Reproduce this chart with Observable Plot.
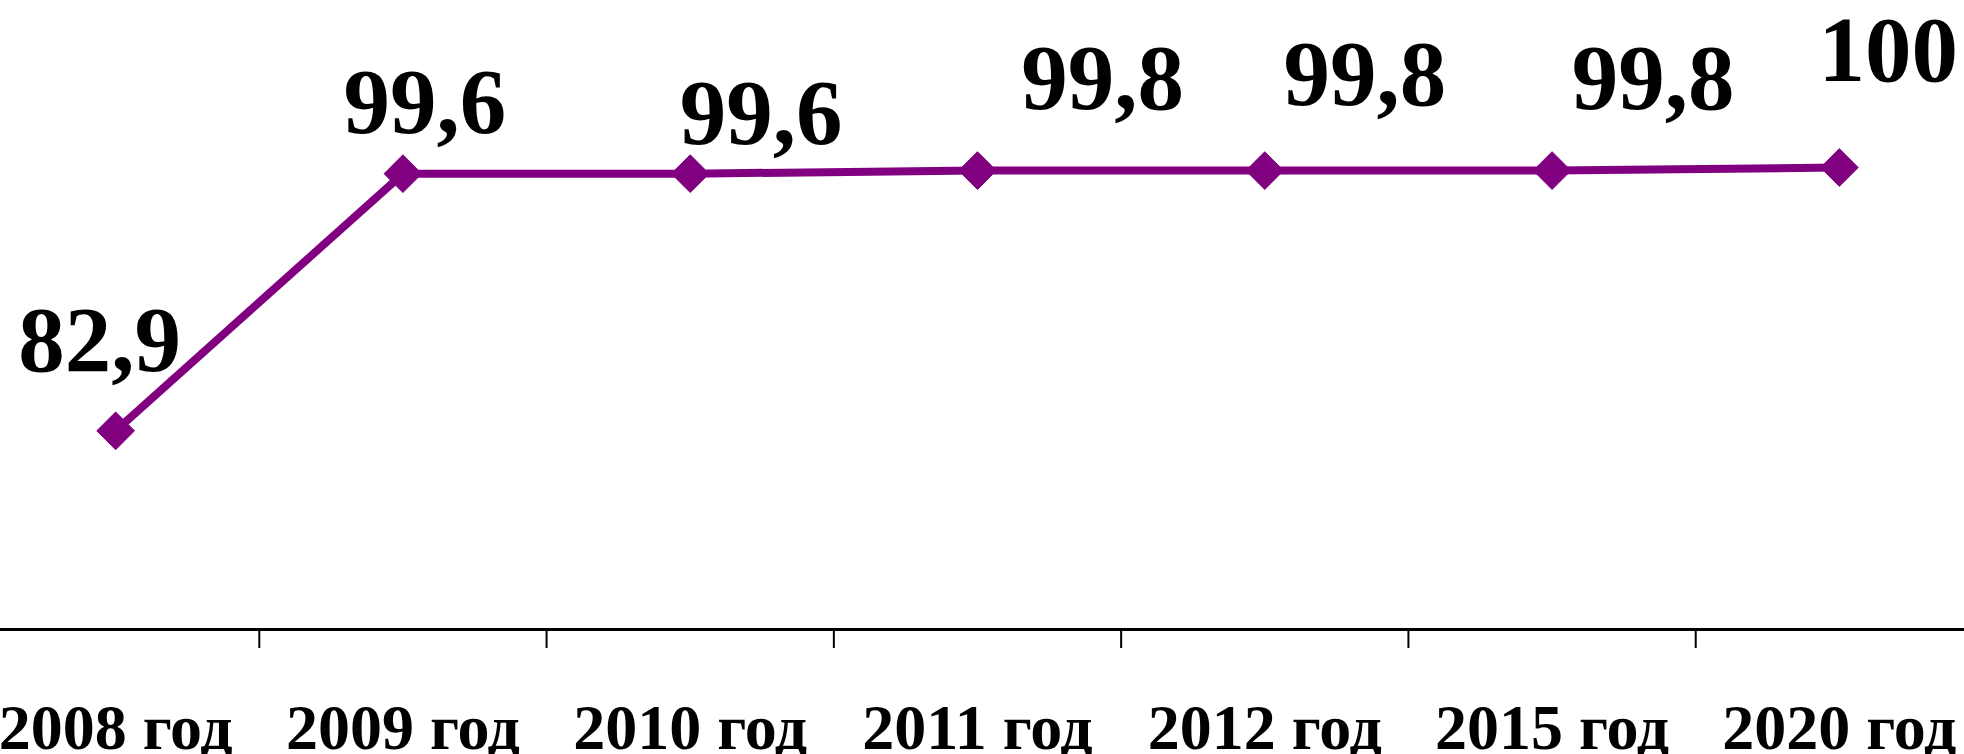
<!DOCTYPE html>
<html><head><meta charset="utf-8">
<script src="https://cdn.jsdelivr.net/npm/d3@7"></script>
<script src="https://cdn.jsdelivr.net/npm/@observablehq/plot@0.6"></script>
<style>html,body{margin:0;padding:0;background:#fff;overflow:hidden;} #chart svg{display:block;}</style>
</head><body><div id="chart"></div>
<script>
const categories = ["2008 год", "2009 год", "2010 год", "2011 год", "2012 год", "2015 год", "2020 год"];
const values = [82.9, 99.6, 99.6, 99.8, 99.8, 99.8, 100];
const valueLabels = ["82,9", "99,6", "99,6", "99,8", "99,8", "99,8", "100"];
const yDomain = [70, 100];

// hand-placed data label offsets (px), as in the original
const labelOffsets = [[-16, -60], [22, -41], [71, -30], [125, -62], [100, -66], [101, -62], [49, -87]];

const data = categories.map((c, i) => ({i, category: c, value: values[i], label: valueLabels[i]}));
const purple = "#800080";
const font = "'Liberation Serif','Times New Roman',serif";
const labelSize = 93;
const tickSize = 64;

const plot = Plot.plot({
  width: 1964, height: 754,
  marginLeft: 0, marginRight: 0, marginTop: 167, marginBottom: 125,
  style: {fontFamily: font, fontWeight: "bold", background: "#fff", overflow: "visible"},
  x: {domain: [-0.5, categories.length - 0.5], range: [-28.5, 1982.5], label: null},
  y: {domain: yDomain, axis: null},
  marks: [
    Plot.ruleY([yDomain[0]], {stroke: "#000", strokeWidth: 3}),
    Plot.axisX(d3.range(categories.length - 1).map(i => i + 0.5), {tickSize: 19, strokeWidth: 2, stroke: "#000", tickFormat: () => "", label: null}),
    Plot.axisX(d3.range(categories.length), {tickSize: 0, tickPadding: 74, tickFormat: i => categories[i], fontSize: tickSize, fontWeight: "bold", fill: "#000", label: null}),
    Plot.line(data, {x: "i", y: "value", stroke: purple, strokeWidth: 8}),
    Plot.dot(data, {x: "i", y: "value", symbol: "diamond2", r: 17, fill: purple, stroke: purple, strokeWidth: 1}),
    ...data.map((d, k) => Plot.text([d], {
      x: "i", y: "value", text: "label",
      fontSize: labelSize, fontWeight: "bold", fill: "#000",
      dx: labelOffsets[k][0], dy: labelOffsets[k][1] - 0.32 * labelSize
    }))
  ]
});
document.getElementById("chart").appendChild(plot);
</script>
</body></html>
